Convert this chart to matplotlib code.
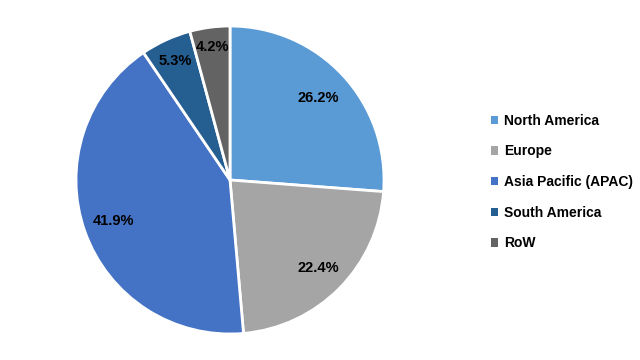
import matplotlib
matplotlib.use("Agg")
import matplotlib.pyplot as plt
import numpy as np

regions = ["North America", "Europe", "Asia Pacific (APAC)", "South America", "RoW"]
shares = [26.2, 22.4, 41.9, 5.3, 4.2]
colors = ["#5B9BD5", "#A5A5A5", "#4472C4", "#255E91", "#636363"]
# how far out each percentage label sits (fraction of radius)
label_dist = [0.78, 0.81, 0.80, 0.85, 0.87]

plt.rcParams["font.family"] = ["Liberation Sans", "DejaVu Sans"]

fig = plt.figure(figsize=(6.4, 3.6), dpi=100)
W, H = 640, 360
cx, cy, r = 230, 180, 154
ax = fig.add_axes([(cx - r) / W, (cy - r) / H, 2 * r / W, 2 * r / H])

wedges, _ = ax.pie(shares, colors=colors, startangle=90, counterclock=False,
                   wedgeprops=dict(edgecolor="white", linewidth=2))

for w, v, d in zip(wedges, shares, label_dist):
    ang = np.deg2rad((w.theta1 + w.theta2) / 2)
    ax.text(d * np.cos(ang), d * np.sin(ang), f"{v}%", ha="center", va="center",
            fontsize=10.5, fontweight="bold", color="black")

ax.set_xlim(-1, 1)
ax.set_ylim(-1, 1)
ax.set_aspect("equal")
ax.axis("off")

leg = fig.legend(wedges, regions, loc="center left", bbox_to_anchor=(478 / W, 178 / H),
                 frameon=False, handlelength=0.55, handleheight=0.55, handletextpad=0.45,
                 labelspacing=1.2, prop=dict(size=10, weight="bold"))
for p in leg.get_patches():
    p.set_edgecolor("none")

fig.savefig("out.png", dpi=100)
